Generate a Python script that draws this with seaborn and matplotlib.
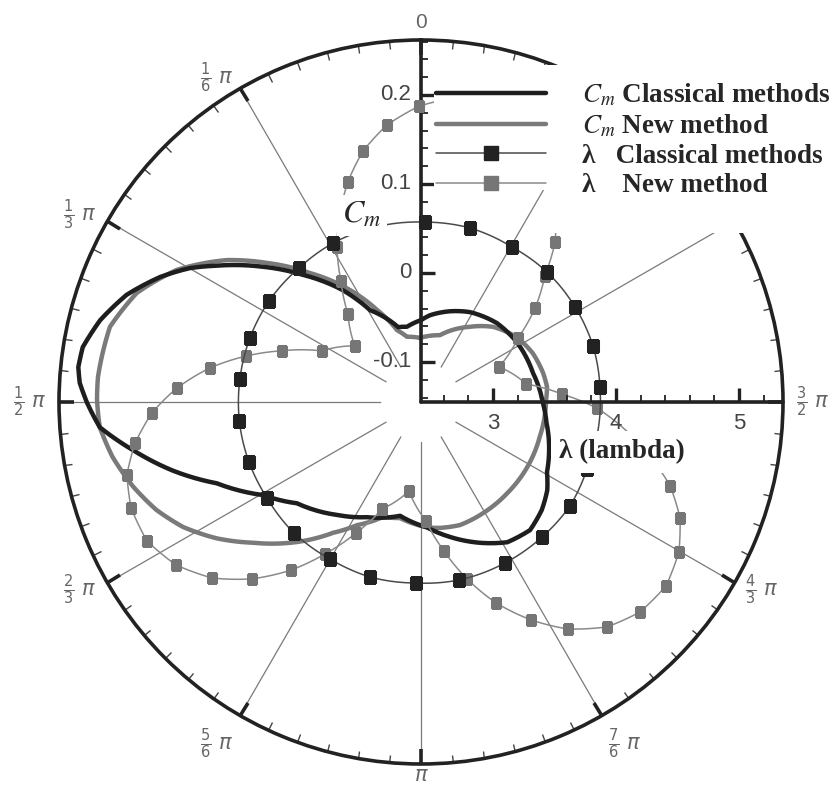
import numpy as np
import matplotlib
matplotlib.use("Agg")
import matplotlib.pyplot as plt
import seaborn as sns
from matplotlib.lines import Line2D
from matplotlib.markers import TICKRIGHT, TICKUP
from matplotlib.patches import Polygon

# angles in degrees, counter-clockwise from the top (0 .. 2pi)
cm_old_theta = [0, 10.6, 17.0, 29.0, 34.9, 42.9, 49.5, 56.3, 59.9, 64.4, 70.0, 75.7,
                80.8, 84.2, 86.8, 90.2, 94.5, 99.5, 105.5, 111.7, 120.5, 129.2, 143.4,
                154.8, 169.6, 182.7, 192.1, 203.7, 211.6, 220.4, 228.2, 235.1, 240.9,
                260.5, 269.5, 284.5, 301.6, 316.1, 331.4, 342.3, 354.1]
cm_old = [-0.053, -0.059, -0.057, -0.027, 0.008, 0.050, 0.089, 0.131, 0.155, 0.180,
          0.207, 0.227, 0.240, 0.242, 0.239, 0.230, 0.217, 0.183, 0.144, 0.102, 0.061,
          0.035, 0.013, -0.002, -0.015, -0.004, 0.010, 0.028, 0.040, 0.044, 0.037,
          0.028, 0.017, -0.002, -0.008, -0.015, -0.018, -0.022, -0.030, -0.038, -0.047]

cm_new_theta = [0.9, 12.2, 18.4, 25.6, 32.4, 40.7, 47.9, 53.8, 61.6, 69.0, 76.4, 85.6,
                89.6, 94.5, 100.1, 106.4, 112.2, 117.7, 123.7, 130.0, 138.5, 146.1,
                152.5, 161.7, 169.7, 182.7, 188.6, 197.6, 209.2, 223.4, 238.5, 253.6,
                270.9, 276.8, 283.4, 293.6, 304.1, 316.2, 326.8, 344.2]
cm_new = [-0.073, -0.070, -0.060, -0.030, 0.004, 0.046, 0.088, 0.125, 0.167, 0.197,
          0.2145, 0.219, 0.219, 0.217, 0.207, 0.192, 0.176, 0.157, 0.131, 0.101, 0.065,
          0.032, 0.011, -0.009, -0.0125, -0.004, -0.002, 0.000, -0.002, -0.004, -0.005,
          -0.006, -0.0045, -0.0024, -0.004, -0.008, -0.015, -0.028, -0.044, -0.067]

lam_old_theta = [29.0, 42.3, 56.4, 69.5, 82.8, 96.0, 109.2, 121.9, 135.9, 149.9, 163.8,
                 178.4, 192.0, 207.5, 221.9, 235.1, 248.0, 274.8, 288.0, 301.7, 315.9,
                 329.6, 344.3, 358.7]
lam_old = [3.892, 3.888, 3.899, 3.900, 3.899, 3.900, 3.896, 3.890, 3.899, 3.890, 3.897,
           3.887, 3.895, 3.891, 3.889, 3.892, 3.870, 3.875, 3.886, 3.887, 3.887, 3.876,
           3.885, 3.878]

lam_new_theta = [0.4, 7.0, 13.0, 18.4, 28.5, 33.5, 39.7, 49.7, 62.7, 69.8, 75.3, 80.8,
                 86.7, 92.3, 98.2, 103.9, 110.1, 116.9, 123.6, 130.1, 136.3, 142.3,
                 147.7, 153.6, 160.0, 172.3, 182.4, 188.8, 194.6, 200.5, 206.8, 212.9,
                 219.6, 226.2, 233.1, 239.8, 245.9, 251.4, 268.0, 273.2, 279.7, 294.2,
                 303.4, 309.5, 315.5, 320.0, 326.5, 333.0, 339.5, 346.3, 353.2]
lam_new = [4.820, 4.684, 4.509, 4.300, 3.848, 3.594, 3.344, 3.119, 3.320, 3.620, 3.886,
           4.152, 4.402, 4.604, 4.764, 4.878, 4.925, 4.913, 4.808, 4.636, 4.404, 4.142,
           3.877, 3.604, 3.341, 3.145, 3.383, 3.641, 3.902, 4.159, 4.400, 4.613, 4.788,
           4.882, 4.906, 4.841, 4.722, 4.552, 3.847, 3.563, 3.283, 3.110, 3.360, 3.617,
           3.852, 4.112, 4.380, 4.600, 4.780, 4.880, 4.910]

angle_ticks = [0, 30, 60, 90, 120, 150, 180, 210, 240, 270, 300, 330]
angle_labels = ["0", r"$\frac{1}{6}\ \pi$", r"$\frac{1}{3}\ \pi$", r"$\frac{1}{2}\ \pi$",
                r"$\frac{2}{3}\ \pi$", r"$\frac{5}{6}\ \pi$", r"$\pi$",
                r"$\frac{7}{6}\ \pi$", r"$\frac{4}{3}\ \pi$", r"$\frac{3}{2}\ \pi$", "", ""]
cm_ticks = [-0.1, 0, 0.1, 0.2]
lam_ticks = [3, 4, 5]
legend_labels = [r"$C_m$ Classical methods", r"$C_m$ New method",
                 "λ   Classical methods", "λ    New method"]

CM_ORIGIN, CM_MAX = -0.145, 0.2617
LAM_ORIGIN, LAM_MAX = 2.415, 5.358
HOLE = 0.11

sns.set_theme(style="ticks")
plt.rcParams["font.family"] = ["Liberation Sans", "DejaVu Sans"]
plt.rcParams["mathtext.fontset"] = "stix"

fig = plt.figure(figsize=(8.4, 7.89), dpi=100)
rect = [59 / 840, 25 / 789, 724 / 840, 724 / 789]
ax = fig.add_axes(rect, projection="polar")      # C_m scale, carries the frame
ax_l = fig.add_axes(rect, projection="polar")    # lambda scale, on top

for a, lo, hi in ((ax, CM_ORIGIN, CM_MAX), (ax_l, LAM_ORIGIN, LAM_MAX)):
    a.set_theta_zero_location("N")
    a.set_theta_direction(1)
    a.set_rlim(lo + HOLE * (hi - lo), hi)
    a.set_rorigin(lo)
    a.set_yticklabels([])
    a.yaxis.grid(False)
    # polar draw() switches the inner circle back on when there is a hole,
    # so make it invisible by width instead
    a.spines["inner"].set_linewidth(0)
    a.spines["inner"].set_edgecolor("none")

# frame: spokes, outer circle, angle ticks
ax.set_xticks(np.deg2rad(angle_ticks))
ax.set_xticklabels([])
ax.set_xticks(np.deg2rad(np.arange(0, 360, 5)), minor=True)
ax.tick_params(axis="x", which="major", direction="in", length=11, width=2.6, color="#222")
ax.tick_params(axis="x", which="minor", direction="in", length=6, width=1, color="#444")
ax.tick_params(axis="x", which="both", tick1On=False, tick2On=True)
ax.xaxis.grid(True, which="major", color="#7a7a7a", lw=0.9)
ax.set_yticks([])
ax.spines["polar"].set(lw=2.6, color="#222")

# angle labels sit just outside the circle, aligned on the side facing it
for deg, lab in zip(angle_ticks, angle_labels):
    s, c = -np.sin(np.deg2rad(deg)), np.cos(np.deg2rad(deg))
    ha = "center" if abs(s) < 0.1 else ("left" if s > 0 else "right")
    va = "bottom" if c > 0.95 else ("top" if c < -0.8 else "center")
    if abs(s) >= 0.1:
        gap = 9
    else:
        gap = 6 if c > 0 else 1.5
    ax.annotate(lab, (np.deg2rad(deg), CM_MAX), xytext=(gap * s, gap * c),
                textcoords="offset points", ha=ha, va=va, fontsize=15, color="#666",
                math_fontfamily="dejavusans", annotation_clip=False)

ax_l.patch.set_visible(False)
ax_l.set_xticks([])
ax_l.set_yticks([])
ax_l.grid(False)
ax_l.spines["polar"].set_visible(False)

# C_m axis (vertical, up)
ax.plot([0, 0], [CM_ORIGIN, CM_MAX], color="#222", lw=2.6, clip_on=False, zorder=3)
cm_minor = np.arange(-0.14, 0.261, 0.02)
ax.plot(np.zeros(len(cm_minor)), cm_minor, ls="none", marker=TICKRIGHT, ms=5, mew=1.3,
        color="#222", clip_on=False, zorder=3)
ax.plot(np.zeros(len(cm_ticks)), cm_ticks, ls="none", marker=TICKRIGHT, ms=10, mew=2.4,
        color="#222", clip_on=False, zorder=3)
for v in cm_ticks:
    ax.annotate(f"{v:g}", (0, v), xytext=(-7, 0), textcoords="offset points",
                ha="right", va="center", fontsize=16, color="#444", annotation_clip=False)

# lambda axis (horizontal, right)
east = np.deg2rad(270)
ax_l.plot([east, east], [LAM_ORIGIN, LAM_MAX], color="#222", lw=2.6, clip_on=False, zorder=3)
lam_minor = np.arange(2.6, 5.25, 0.2)
ax_l.plot(np.full(len(lam_minor), east), lam_minor, ls="none", marker=TICKUP, ms=5,
          mew=1.3, color="#222", clip_on=False, zorder=3)
ax_l.plot(np.full(len(lam_ticks), east), lam_ticks, ls="none", marker=TICKUP, ms=10,
          mew=2.4, color="#222", clip_on=False, zorder=3)
for v in lam_ticks:
    ax_l.annotate(str(v), (east, v), xytext=(0, -8), textcoords="offset points",
                  ha="center", va="top", fontsize=16, color="#444", annotation_clip=False)


def closed(theta, vals):
    theta = np.asarray(theta, dtype=float)
    return np.deg2rad(np.r_[theta, theta[0] + 360]), np.r_[vals, vals[:1]]


def smooth_polar(target):
    # draw the segments along the polar grid instead of as straight chords
    target.lines[-1].get_path()._interpolation_steps = 12


t, r = closed(cm_new_theta, cm_new)
sns.lineplot(x=t, y=r, ax=ax, sort=False, estimator=None, color="#7a7a7a", lw=3.2)
smooth_polar(ax)
t, r = closed(cm_old_theta, cm_old)
sns.lineplot(x=t, y=r, ax=ax, sort=False, estimator=None, color="#1e1e1e", lw=3.2)
smooth_polar(ax)

t, r = closed(lam_new_theta, lam_new)
sns.lineplot(x=t, y=r, ax=ax_l, sort=False, estimator=None, color="#8a8a8a", lw=1.1,
             marker="s", markersize=7.5, markerfacecolor="#767676",
             markeredgecolor="#767676")
smooth_polar(ax_l)
t, r = closed(lam_old_theta, lam_old)
sns.lineplot(x=t, y=r, ax=ax_l, sort=False, estimator=None, color="#4a4a4a", lw=1.1,
             marker="s", markersize=8, markerfacecolor="#222", markeredgecolor="#222")
smooth_polar(ax_l)

for a in (ax, ax_l):
    a.set_xlabel("")
    a.set_ylabel("")

# white legend area
px = np.array([434, 840, 840, 545, 545, 434]) / 840
py = 1 - np.array([65, 65, 233, 233, 190, 190]) / 789
ax_l.add_patch(Polygon(np.c_[px, py], closed=True, transform=fig.transFigure,
                       facecolor="white", edgecolor="none", clip_on=False, zorder=4.5))

handles = [
    Line2D([], [], color="#1e1e1e", lw=3.2),
    Line2D([], [], color="#7a7a7a", lw=3.2),
    Line2D([], [], color="#4a4a4a", lw=1.1, marker="s", ms=9.5, mfc="#222", mec="#222"),
    Line2D([], [], color="#8a8a8a", lw=1.1, marker="s", ms=9.5, mfc="#767676", mec="#767676"),
]
leg = ax_l.legend(handles, legend_labels, loc="upper left",
                  bbox_to_anchor=(436 / 840, 1 - 82 / 789), bbox_transform=fig.transFigure,
                  frameon=False, borderpad=0, borderaxespad=0, handlelength=4.07,
                  handletextpad=1.33, labelspacing=0.16, numpoints=1,
                  prop=dict(family="Liberation Serif", weight="bold", size=19.5))
leg.set_zorder(6)

ax_l.text(0.4185, 0.758, r"$C_m$", transform=ax_l.transAxes, fontsize=23,
          ha="center", va="center", zorder=10,
          bbox=dict(facecolor="white", edgecolor="none", pad=4))
ax_l.text(0.7776, 0.431, "λ (lambda)", transform=ax_l.transAxes, fontsize=19.5,
          family="Liberation Serif", weight="bold", ha="center", va="center", zorder=10,
          bbox=dict(facecolor="white", edgecolor="none", pad=6))

fig.savefig("out.png", dpi=100, facecolor="white")
